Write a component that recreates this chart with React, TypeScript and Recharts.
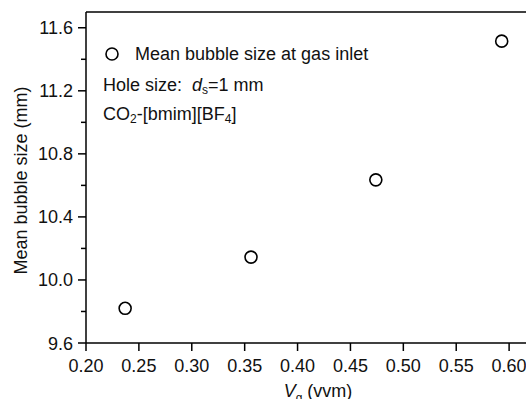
import React from 'react';
import {
  ScatterChart,
  Scatter,
  XAxis,
  YAxis,
  ReferenceLine,
} from 'recharts';

// Gas aeration rate (vvm) and mean bubble size at gas inlet (mm)
const gasRate = [0.237, 0.356, 0.474, 0.593];
const bubbleSize = [9.82, 10.145, 10.635, 11.515];

const xTicks = [0.2, 0.25, 0.3, 0.35, 0.4, 0.45, 0.5, 0.55, 0.6];
const yTicks = [9.6, 9.8, 10.0, 10.2, 10.4, 10.6, 10.8, 11.0, 11.2, 11.4, 11.6];

const data = gasRate.map((x, i) => ({ x, y: bubbleSize[i] }));

const FONT = '"Liberation Sans", Arial, sans-serif';
const INK = '#111';

const XTick = (props: any) => {
  const { x, y, payload } = props;
  return (
    <g>
      <line x1={x} x2={x} y1={y} y2={y + 8} stroke="#000" strokeWidth={1.5} />
      <text x={x} y={y + 29} textAnchor="middle" fontSize={18} fill={INK}>
        {Number(payload.value).toFixed(2)}
      </text>
    </g>
  );
};

const YTick = (props: any) => {
  const { x, y, payload } = props;
  const major = Math.round(payload.value * 10) % 4 === 0;
  return (
    <g>
      <line x1={x - (major ? 8 : 5)} x2={x} y1={y} y2={y} stroke="#000" strokeWidth={1.5} />
      {major && (
        <text x={x - 13} y={y + 6.5} textAnchor="end" fontSize={18} fill={INK}>
          {Number(payload.value).toFixed(1)}
        </text>
      )}
    </g>
  );
};

const XTitle = (props: any) => {
  const { x, y, width } = props.viewBox;
  return (
    <text x={x + width / 2 - 6} y={y + 54} textAnchor="middle" fontSize={18} fill={INK}>
      <tspan fontStyle="italic">V</tspan>
      <tspan fontSize={12} dy={5}>g</tspan>
      <tspan dy={-5}> (vvm)</tspan>
    </text>
  );
};

const YTitle = (props: any) => {
  const { y, height } = props.viewBox;
  const cy = y + height / 2 + 3;
  return (
    <text
      x={27}
      y={cy}
      transform={`rotate(-90 27 ${cy})`}
      textAnchor="middle"
      fontSize={18}
      fill={INK}
    >
      Mean bubble size (mm)
    </text>
  );
};

const Circle = (props: any) => (
  <circle cx={props.cx} cy={props.cy} r={6} fill="#fff" stroke="#000" strokeWidth={1.6} />
);

export default function App() {
  return (
    <div
      style={{
        position: 'absolute',
        left: 0,
        top: 0,
        width: 526,
        height: 399,
        overflow: 'hidden',
        background: '#fff',
        fontFamily: FONT,
        color: INK,
      }}
    >
      <ScatterChart width={600} height={420} margin={{ top: 12, right: 38, bottom: 17, left: 0 }}>
        <XAxis
          type="number"
          dataKey="x"
          domain={[0.2, 0.65]}
          ticks={xTicks}
          allowDataOverflow
          height={60}
          tickSize={0}
          tickMargin={0}
          tickLine={false}
          tick={<XTick />}
          axisLine={{ stroke: '#000', strokeWidth: 1.5 }}
          label={{ content: XTitle }}
        />
        <YAxis
          type="number"
          dataKey="y"
          domain={[9.6, 11.7]}
          ticks={yTicks}
          allowDataOverflow
          width={86}
          tickSize={0}
          tickMargin={0}
          tickLine={false}
          tick={<YTick />}
          axisLine={{ stroke: '#000', strokeWidth: 1.5 }}
          label={{ content: YTitle }}
        />
        <ReferenceLine y={11.7} stroke="#000" strokeWidth={1.5} />
        <Scatter data={data} shape={<Circle />} isAnimationActive={false} />
      </ScatterChart>

      <div style={{ position: 'absolute', left: 103, top: 42, fontSize: 18, lineHeight: '24px' }}>
        <div style={{ display: 'flex', alignItems: 'center', height: 24 }}>
          <svg width={32} height={24}>
            <circle cx={9} cy={12} r={6} fill="#fff" stroke="#000" strokeWidth={1.6} />
          </svg>
          <span>Mean bubble size at gas inlet</span>
        </div>
        <div style={{ marginTop: 7, whiteSpace: 'pre' }}>
          Hole size:  <i>d</i>
          <sub style={{ fontSize: 12, verticalAlign: '-3px' }}>s</sub>=1 mm
        </div>
        <div style={{ marginTop: 0 }}>
          CO<sub style={{ fontSize: 12, verticalAlign: '-3px' }}>2</sub>-[bmim][BF
          <sub style={{ fontSize: 12, verticalAlign: '-3px' }}>4</sub>]
        </div>
      </div>
    </div>
  );
}
